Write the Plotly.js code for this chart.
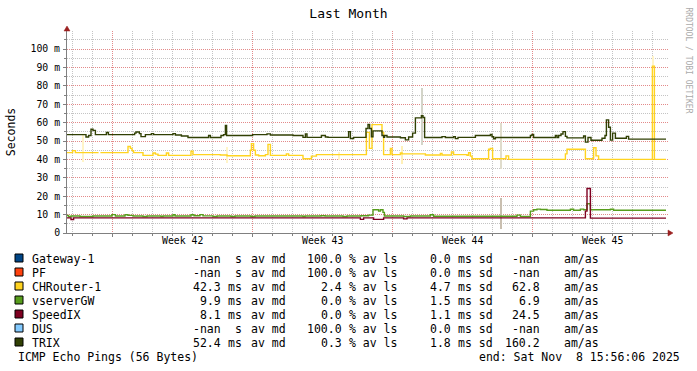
<!DOCTYPE html>
<html><head><meta charset="utf-8">
<script src="https://cdn.plot.ly/plotly-3.0.1.min.js"></script>
<style>html,body{margin:0;padding:0;background:#fff;}#chart{width:697px;height:371px;}</style>
</head><body><div id="chart"></div>
<script>
// ---------------- data ----------------
const targets    = ['Gateway-1','PF','CHRouter-1','vserverGW','SpeedIX','DUS','TRIX'];
const medianVal  = ['-nan','-nan','42.3','9.9','8.1','-nan','52.4'];
const medianUnit = ['s','s','ms','ms','ms','s','ms'];
const lossVal    = ['100.0','100.0','2.4','0.0','0.0','100.0','0.3'];
const sdVal      = ['0.0','0.0','4.7','1.5','1.1','0.0','1.8'];
const amasVal    = ['-nan','-nan','62.8','6.9','24.5','-nan','160.2'];

// time in days since start of the month window, values in ms
const trixT = [0,0.95,1.08,1.2,1.3,1.42,1.97,2.07,3.38,3.45,3.62,3.7,3.92,4.22,4.33,5.3,5.42,5.72,6.05,7.08,7.17,7.7,7.83,7.92,7.98,9.28,10.0,10.17,11.3,11.8,11.92,12.0,12.72,12.92,13.05,14.08,14.17,14.33,14.95,15.05,15.13,15.22,15.3,15.75,15.83,15.88,16.0,16.67,16.92,17.08,17.28,17.42,17.72,17.8,17.88,18.75,18.92,19.33,19.42,19.55,20.42,21.17,21.25,21.33,21.42,23.17,23.25,23.33,24.42,24.5,24.58,24.7,24.8,24.92,25.0,25.83,25.92,26.05,26.2,26.75,26.9,26.97,27.08,27.17,27.28,27.42,27.97,28.08,29.95];
const trixV = [53.5,52.2,53.0,56.4,55.8,53.5,54.6,53.5,54.3,54.9,54.0,52.4,53.5,54.0,53.5,54.0,53.3,52.7,51.9,53.0,51.9,53.0,53.5,58.5,53.0,53.5,53.9,53.3,53.0,52.0,53.9,52.0,53.0,52.2,52.0,55.1,51.4,52.0,56.8,59.0,56.8,52.3,55.5,53.0,52.0,53.0,52.2,51.8,50.6,52.2,54.3,62.6,63.7,62.8,51.9,52.4,51.9,52.4,51.3,52.0,53.0,53.6,52.3,51.2,51.9,53.0,53.6,51.9,53.0,51.9,53.0,53.8,55.1,52.5,51.7,52.7,49.4,51.9,50.4,51.5,53.0,61.5,57.5,50.5,54.3,51.5,52.5,51.0,51.0];

const chT = [0,0.28,0.42,1.58,1.6,1.67,3.05,3.17,3.25,3.33,3.8,4.3,4.42,4.55,4.97,5.08,6.2,6.3,7.67,8.0,9.17,9.22,9.33,9.42,9.58,9.92,10.05,10.17,10.97,11.08,11.8,12.22,12.47,14.97,15.12,15.25,15.75,15.83,16.17,16.25,16.67,16.75,17.92,18.67,18.75,19.22,19.33,20.0,20.08,20.17,20.25,21.08,21.17,21.28,21.95,22.08,24.92,25.0,25.92,26.33,26.45,26.58,29.27,29.37,29.95];
const chV = [43.7,44.8,43.7,43.7,null,43.7,47.0,46.0,44.8,43.7,42.2,43.5,42.9,42.2,43.5,42.2,44.4,42.6,42.4,42.0,45.0,48.6,45.0,42.4,42.0,42.6,48.2,42.2,43.0,42.2,40.4,41.8,42.6,54.7,46.0,58.9,54.7,42.6,46.0,42.6,43.5,43.0,42.4,43.3,42.4,44.0,42.6,42.2,43.7,41.8,40.4,45.5,46.0,40.4,41.9,40.0,43.0,45.5,40.4,46.3,41.9,40.0,90.7,40.0,40.0];

const gwT = [0,0.08,0.2,0.65,1.3,2.25,2.42,2.9,3.05,3.3,3.8,4.0,4.7,4.8,5.3,5.4,6.2,6.35,6.65,6.8,7.3,7.5,8.2,8.4,9.2,9.4,11.8,11.9,12.7,12.9,13.8,14.0,14.7,15.08,15.3,15.58,15.67,15.8,15.87,16.83,17.17,18.17,18.33,22.5,22.67,23.17,23.33,23.5,23.67,24.0,25.17,25.33,25.67,25.83,26.0,26.17,27.17,27.33,29.95];
const gwV = [9.5,8.8,9.2,9.0,9.2,10.0,9.2,9.9,9.6,9.2,9.0,9.2,9.0,9.2,9.9,9.2,9.9,9.4,10.0,9.3,9.0,9.2,9.0,9.2,9.0,9.2,9.0,9.2,9.4,9.2,9.0,9.2,9.4,9.7,12.6,11.9,12.6,11.2,9.2,9.0,9.2,9.9,9.1,9.7,9.0,11.9,12.6,13.0,12.8,12.4,12.9,12.4,13.0,12.6,15.9,12.6,12.9,12.4,12.4];

const ixT = [0,0.2,0.33,14.67,14.83,15.33,15.83,16.83,17.0,25.92,26.0,26.17,29.95];
const ixV = [8.2,7.3,8.2,7.4,8.2,7.4,8.2,7.7,8.2,11.9,24.2,8.1,8.1];

// smoke (spread of the pings) : time, low, high
const smokeT  = [0.78,8.0,13.6,16.75,17.77,21.7,21.7,29.32];
const smokeLo = [38.4,38.3,39.5,37.3,48.0,35.0,2.0,90.7];
const smokeHi = [53.7,46.8,44.0,47.3,79.0,60.0,19.0,96.0];

const weekLines  = [2.25,9.25,16.25,23.25];
const weekLabelX = [5.77,12.77,19.79,26.79];
const weekLabels = ['Week 42','Week 43','Week 44','Week 45'];
const dayLines   = [0.25,1.25,2.25,3.25,4.25,5.25,6.25,7.25,8.25,9.25,10.25,11.25,12.25,13.25,14.25,15.25,16.25,17.25,18.25,19.25,20.25,21.25,22.25,23.25,24.25,25.25,26.25,27.25,28.25,29.25];
const yTickVals  = [0,10,20,30,40,50,60,70,80,90,100];
const yTickText  = ['0','10 m','20 m','30 m','40 m','50 m','60 m','70 m','80 m','90 m','100 m'];
const endText    = 'end: Sat Nov \u00a08 15:56:06 2025';
const footText   = 'ICMP Echo Pings (56 Bytes)';

// ---------------- styles ----------------
const colors = ['#004586','#ff420e','#ffd320','#579d1c','#7e0021','#83caff','#314004'];
const smokeColors = ['#fff4c8','#fff4c8','#fff4c8','#fff0b8','#d3d4c8','#e0dccc','#c9bfb0','#fff4c8'];
const MONO = 'DejaVu Sans Mono, monospace';
const L = 67, R = 668, T = 31, B = 233;
const px = x => (x - L) / (R - L);
const py = y => (B - y) / (B - T);

function step(name, t, v, color){
  return {type:'scatter', mode:'lines', name, x:t, y:v, connectgaps:false,
          line:{shape:'hv', color, width:1.4}, hoverinfo:'skip'};
}
const traces = [
  {type:'bar', x:smokeT, base:smokeLo, y:smokeHi.map((h,i)=>h-smokeLo[i]),
   width:0.1, marker:{color:smokeColors, line:{width:0}}, hoverinfo:'skip'},
  step('CHRouter-1', chT, chV, colors[2]),
  step('vserverGW', gwT, gwV, colors[3]),
  step('SpeedIX', ixT, ixV, colors[4]),
  step('TRIX', trixT, trixV, colors[6])
];

const ann = [];
function txt(s, xPx, yPx, anchor, size, color, angle){
  ann.push({xref:'paper', yref:'paper', x:px(xPx), y:py(yPx), xanchor:anchor, yanchor:'middle',
            text:s, showarrow:false, borderpad:0, textangle:angle||0,
            font:{family:MONO, size:size||11.5, color:color||'#000'}});
}
weekLabels.forEach((w,i)=>{
  ann.push({xref:'x', yref:'paper', x:weekLabelX[i], y:py(240.7), xanchor:'center', yanchor:'middle',
            text:w, showarrow:false, borderpad:0, font:{family:MONO, size:9.8, color:'#000'}});
});
const shapes = [];
const rowY = [259,273,287,301,315,329,343];
targets.forEach((name,i)=>{
  const y = rowY[i];
  shapes.push({type:'rect', xref:'paper', yref:'paper', x0:px(15), x1:px(23), y0:py(y+3), y1:py(y-5),
               fillcolor:colors[i], line:{color:'#000', width:1}});
  txt(name, 30.5, y, 'left');
  txt(medianVal[i], 222, y, 'right');
  txt(medianUnit[i], 243, y, 'right');
  txt('av md', 249.5, y, 'left');
  txt(lossVal[i], 343, y, 'right');
  txt('% av ls', 348, y, 'left');
  txt(sdVal[i], 429, y, 'left');
  txt('ms sd', 456.5, y, 'left');
  txt(amasVal[i], 541, y, 'right');
  txt('am/as', 563, y, 'left');
});
txt(footText, 16.5, 357, 'left');
txt(endText, 681, 357, 'right');
txt('RRDTOOL / TOBI OETIKER', 688.5, 60, 'center', 8, '#aaaaaa', 90);

// axis arrows
function tri(pts){ return 'M' + pts.map(p=>px(p[0])+','+py(p[1])).join(' L') + ' Z'; }
shapes.push({type:'path', xref:'paper', yref:'paper', path:tri([[64,31],[70,31],[67,26]]),
             fillcolor:'#9b2020', line:{color:'#9b2020', width:0.5}});
shapes.push({type:'path', xref:'paper', yref:'paper', path:tri([[668,230],[668,236],[673,233]]),
             fillcolor:'#9b2020', line:{color:'#9b2020', width:0.5}});

const MGRID = '#e38a8a';
const GRID = '#c4c4c4';
const layout = {
  width:697, height:371, margin:{l:L, r:697-R, t:T, b:371-B},
  paper_bgcolor:'#fff', plot_bgcolor:'#fff', showlegend:false, hovermode:false,
  title:{text:'Last Month', font:{family:MONO, size:13, color:'#000'},
         x:0.5, xref:'container', xanchor:'center', y:1-13.5/371, yref:'container', yanchor:'middle'},
  xaxis:{range:[0,30.05], tickmode:'array', tickvals:weekLines, showticklabels:false,
         showgrid:true, gridcolor:MGRID, griddash:'1px,1px', gridwidth:1, zeroline:false,
         showline:true, linecolor:'#808080', linewidth:1, ticks:'outside', ticklen:3, tickcolor:'#808080',
         minor:{tickmode:'array', tickvals:dayLines, showgrid:true, gridcolor:GRID, griddash:'1px,1px',
                ticks:'outside', ticklen:2, tickcolor:'#808080'},
         fixedrange:true},
  yaxis:{range:[0,109.8], tickmode:'array', tickvals:yTickVals, ticktext:yTickText,
         tickfont:{family:MONO, size:9.8, color:'#000'},
         showgrid:true, gridcolor:MGRID, griddash:'1px,1px', gridwidth:1, zeroline:false,
         showline:true, linecolor:'#808080', linewidth:1, ticks:'outside', ticklen:3, tickcolor:'#808080',
         ticklabelstandoff:1,
         minor:{dtick:5, tick0:0, showgrid:true, gridcolor:GRID, griddash:'1px,1px',
                ticks:'outside', ticklen:2, tickcolor:'#808080'},
         title:{text:'Seconds', font:{family:MONO, size:11.5, color:'#000'}, standoff:12},
         fixedrange:true},
  annotations:ann, shapes:shapes, bargap:0
};
Plotly.newPlot('chart', traces, layout, {staticPlot:true, displayModeBar:false});
</script>
</body></html>
